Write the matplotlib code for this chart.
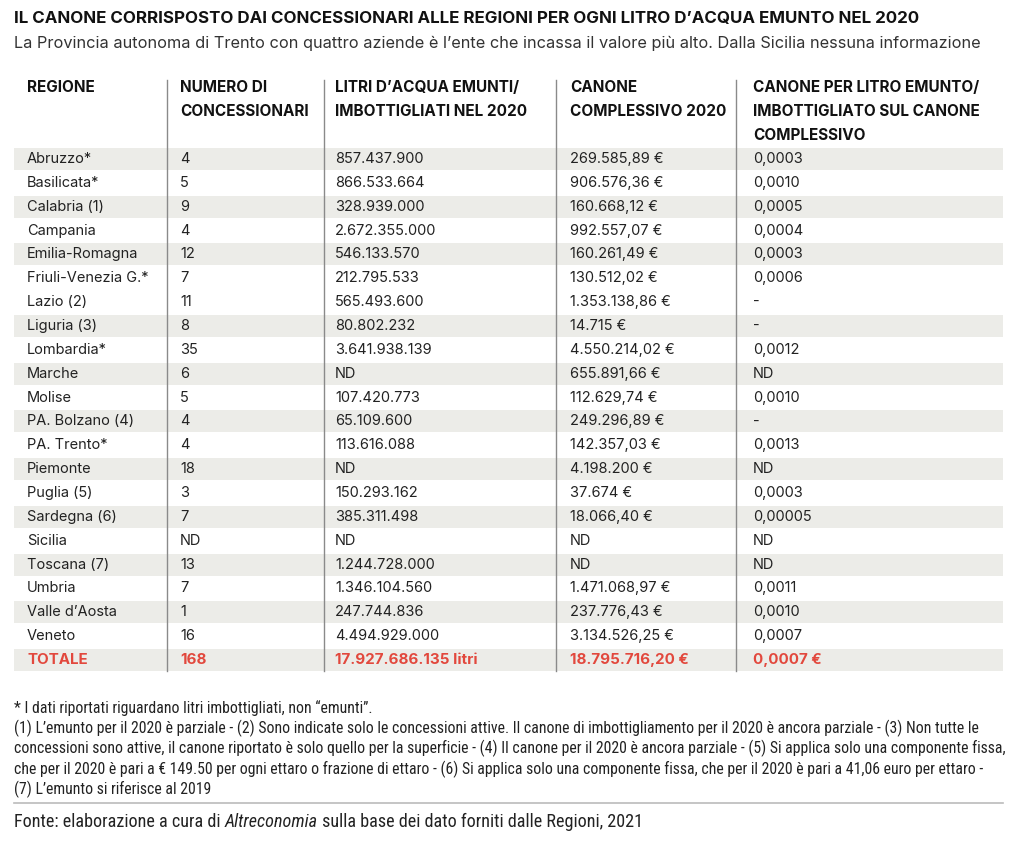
import matplotlib.pyplot as plt
from matplotlib import font_manager as fm

# dati della tabella
regioni = ["Abruzzo*", "Basilicata*", "Calabria (1)", "Campania", "Emilia-Romagna",
           "Friuli-Venezia G.*", "Lazio (2)", "Liguria (3)", "Lombardia*", "Marche",
           "Molise", "PA. Bolzano (4)", "PA. Trento*", "Piemonte", "Puglia (5)",
           "Sardegna (6)", "Sicilia", "Toscana (7)", "Umbria", "Valle d\u2019Aosta", "Veneto"]
concessionari = ["4", "5", "9", "4", "12", "7", "11", "8", "35", "6", "5", "4", "4",
                 "18", "3", "7", "ND", "13", "7", "1", "16"]
litri = ["857.437.900", "866.533.664", "328.939.000", "2.672.355.000", "546.133.570",
         "212.795.533", "565.493.600", "80.802.232", "3.641.938.139", "ND",
         "107.420.773", "65.109.600", "113.616.088", "ND", "150.293.162", "385.311.498",
         "ND", "1.244.728.000", "1.346.104.560", "247.744.836", "4.494.929.000"]
canone = ["269.585,89 \u20ac", "906.576,36 \u20ac", "160.668,12 \u20ac", "992.557,07 \u20ac",
          "160.261,49 \u20ac", "130.512,02 \u20ac", "1.353.138,86 \u20ac", "14.715 \u20ac",
          "4.550.214,02 \u20ac", "655.891,66 \u20ac", "112.629,74 \u20ac", "249.296,89 \u20ac",
          "142.357,03 \u20ac", "4.198.200 \u20ac", "37.674 \u20ac", "18.066,40 \u20ac", "ND",
          "ND", "1.471.068,97 \u20ac", "237.776,43 \u20ac", "3.134.526,25 \u20ac"]
canone_litro = ["0,0003", "0,0010", "0,0005", "0,0004", "0,0003", "0,0006", "-", "-",
                "0,0012", "ND", "0,0010", "-", "0,0013", "ND", "0,0003", "0,00005", "ND",
                "ND", "0,0011", "0,0010", "0,0007"]
totale = ["TOTALE", "168", "17.927.686.135 litri", "18.795.716,20 \u20ac", "0,0007 \u20ac"]
intestazioni = [["REGIONE"], ["NUMERO DI", "CONCESSIONARI"],
                ["LITRI D\u2019ACQUA EMUNTI/", "IMBOTTIGLIATI NEL 2020"],
                ["CANONE", "COMPLESSIVO 2020"],
                ["CANONE PER LITRO EMUNTO/", "IMBOTTIGLIATO SUL CANONE", "COMPLESSIVO"]]
# righe con sfondo grigio
grigie = [0, 2, 4, 7, 9, 11, 13, 15, 17, 19, 21]

titolo = "IL CANONE CORRISPOSTO DAI CONCESSIONARI ALLE REGIONI PER OGNI LITRO D\u2019ACQUA EMUNTO NEL 2020"
sottotitolo = ("La Provincia autonoma di Trento con quattro aziende \u00e8 l\u2019ente che incassa "
               "il valore pi\u00f9 alto. Dalla Sicilia nessuna informazione")
note = ["* I dati riportati riguardano litri imbottigliati, non \u201cemunti\u201d.",
        "(1) L\u2019emunto per il 2020 \u00e8 parziale - (2) Sono indicate solo le concessioni attive. "
        "Il canone di imbottigliamento per il 2020 \u00e8 ancora parziale - (3) Non tutte le",
        "concessioni sono attive, il canone riportato \u00e8 solo quello per la superficie - (4) Il canone "
        "per il 2020 \u00e8 ancora parziale - (5) Si applica solo una componente fissa,",
        "che per il 2020 \u00e8 pari a \u20ac 149.50 per ogni ettaro o frazione di ettaro - (6) Si applica "
        "solo una componente fissa, che per il 2020 \u00e8 pari a 41,06 euro per ettaro -",
        "(7) L\u2019emunto si riferisce al 2019"]

disponibili = {f.name for f in fm.fontManager.ttflist}
stretto = "DejaVu Sans"
for nome in ["Liberation Sans Narrow", "DejaVu Sans Condensed", "Roboto Condensed"]:
    if nome in disponibili:
        stretto = nome
        break
font = "Inter"
rosso = "#e2483d"
grigio = "#ecece8"
testo = "#222222"

fig = plt.figure(figsize=(10.24, 8.47), dpi=100)
ax = fig.add_axes([0, 0, 1, 1])
ax.set_xlim(0, 1024)
ax.set_ylim(847, 0)
ax.axis("off")

ax.text(14, 19, titolo, fontsize=12.2, fontweight="bold", family=font, color="#111111", va="center")
ax.text(14, 43, sottotitolo, fontsize=11.75, family=font, color="#333333", va="center")

col_x = [27, 180, 335, 570, 753]
sep_x = [167, 324, 556, 736]
y0 = 159
passo = 23.86

for j, righe in enumerate(intestazioni):
    for k, r in enumerate(righe):
        ax.text(col_x[j], 88 + k * 23.5, r, fontsize=11, fontweight="bold",
                family=font, color="#111111", va="center")

colonne = [regioni, concessionari, litri, canone, canone_litro]
n = len(regioni) + 1
for i in range(n):
    y = y0 + i * passo
    if i in grigie:
        ax.fill_between([14, 1003], y - 11, y + 11, color=grigio, lw=0, zorder=0)
    for j in range(5):
        if i < len(regioni):
            ax.text(col_x[j], y, colonne[j][i], fontsize=10.5, family=font,
                    color=testo, va="center")
        else:
            ax.text(col_x[j], y, totale[j], fontsize=10.9, family=font, fontweight="bold",
                    color=rosso, va="center")

for x in sep_x:
    ax.plot([x, x], [80, y0 + (n - 1) * passo + 11], color="#8a8a8a", lw=1, zorder=2)

for k, r in enumerate(note):
    ax.text(14, 708 + k * 20.4, r, fontsize=11.3, family=stretto, color=testo, va="center")

ax.plot([14, 1003], [803, 803], color="#bbbbbb", lw=1.2)
fs_fonte = 13.1
t1 = ax.text(14, 822, "Fonte: elaborazione a cura di ", fontsize=fs_fonte, family=stretto,
             color=testo, va="center")
fig.canvas.draw()
bb = t1.get_window_extent()
x1 = ax.transData.inverted().transform((bb.x1, 0))[0]
t2 = ax.text(x1, 822, "Altreconomia", fontsize=fs_fonte, family=stretto, style="italic",
             color=testo, va="center")
fig.canvas.draw()
bb = t2.get_window_extent()
x2 = ax.transData.inverted().transform((bb.x1, 0))[0]
ax.text(x2, 822, " sulla base dei dato forniti dalle Regioni, 2021", fontsize=fs_fonte,
        family=stretto, color=testo, va="center")

fig.savefig("out.png", dpi=100, facecolor="white")
